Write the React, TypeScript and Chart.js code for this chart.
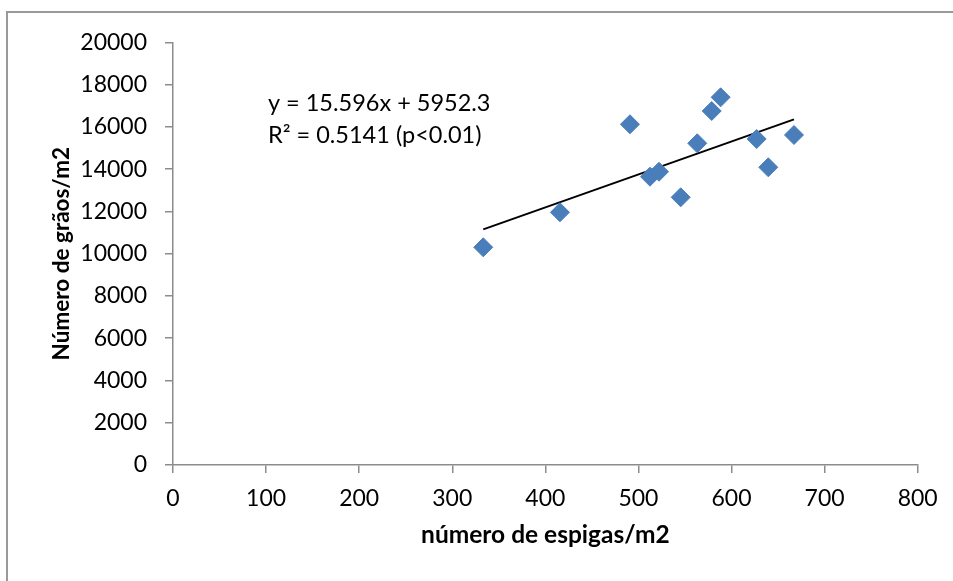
import React, { useEffect, useRef } from "react";
import { Chart, registerables } from "chart.js";

Chart.register(...registerables);

// Data
const X_VALUES = [333.3, 415.7, 490.9, 512.4, 522.1, 545.4, 563.2, 578.7, 588.3, 627.0, 639.5, 667.1];
const Y_VALUES = [10300, 11957, 16120, 13641, 13877, 12666, 15221, 16749, 17398, 15425, 14086, 15614];
const TREND_X = [333.3, 667.1];
const TREND_Y = [11150, 16355];
const X_TITLE = "número de espigas/m2";
const Y_TITLE = "Número de grãos/m2";
const EQUATION_LINES = ["y = 15.596x + 5952.3", "R² = 0.5141 (p<0.01)"];
const ANNOT_X = 102;
const ANNOT_Y = [17130, 15610];

const FONT = "Lato, 'Open Sans', sans-serif";
const AXIS_COLOR = "#8c8c8c";

const annotationPlugin = {
  id: "equationText",
  afterDatasetsDraw(chart: any) {
    const { ctx, scales } = chart;
    ctx.save();
    ctx.fillStyle = "#000";
    ctx.font = `23.5px ${FONT}`;
    ctx.textAlign = "left";
    ctx.textBaseline = "middle";
    EQUATION_LINES.forEach((t, i) => {
      ctx.fillText(t, scales.x.getPixelForValue(ANNOT_X), scales.y.getPixelForValue(ANNOT_Y[i]));
    });
    ctx.restore();
  },
};

export default function App() {
  const ref = useRef<HTMLCanvasElement>(null);
  useEffect(() => {
    if (!ref.current) return;
    const chart = new Chart(ref.current, {
      type: "scatter",
      data: {
        datasets: [
          {
            label: "data",
            data: X_VALUES.map((x, i) => ({ x, y: Y_VALUES[i] })),
            pointStyle: "rectRot",
            pointRadius: 9.5,
            backgroundColor: "#4a7ebb",
            borderColor: "#4a7ebb",
            borderWidth: 1,
          },
          {
            label: "trend",
            type: "line",
            data: TREND_X.map((x, i) => ({ x, y: TREND_Y[i] })),
            borderColor: "#000",
            borderWidth: 2,
            pointRadius: 0,
            fill: false,
          } as any,
        ],
      },
      options: {
        animation: false,
        responsive: false,
        devicePixelRatio: 1,
        layout: { padding: { left: 0, top: 42.3, right: 35.3, bottom: 0 } },
        plugins: { legend: { display: false }, tooltip: { enabled: false } },
        scales: {
          x: {
            type: "linear",
            min: 0,
            max: 800,
            ticks: {
              stepSize: 100,
              padding: 12,
              color: "#000",
              font: { family: FONT, size: 23 },
              callback: (v: any) => String(v),
            },
            grid: { drawOnChartArea: false, drawTicks: true, tickLength: 8, color: AXIS_COLOR, lineWidth: 1.5 },
            border: { color: AXIS_COLOR, width: 1.5 },
            title: {
              display: true,
              text: X_TITLE,
              color: "#000",
              font: { family: FONT, size: 24.5, weight: "bold" },
              padding: { top: 0, bottom: 31 },
            },
            afterFit(scale: any) {
              scale.height = 116;
            },
          },
          y: {
            type: "linear",
            min: 0,
            max: 20000,
            ticks: {
              stepSize: 2000,
              padding: 18,
              color: "#000",
              font: { family: FONT, size: 23 },
              callback: (v: any) => String(v),
            },
            grid: { drawOnChartArea: false, drawTicks: true, tickLength: 8, color: AXIS_COLOR, lineWidth: 1.5 },
            border: { color: AXIS_COLOR, width: 1.5 },
            title: {
              display: true,
              text: Y_TITLE,
              color: "#000",
              font: { family: FONT, size: 22.5, weight: "bold" },
              padding: { top: 48, bottom: 0 },
            },
            afterFit(scale: any) {
              scale.width = 173;
            },
          },
        },
      },
      plugins: [annotationPlugin],
    });
    return () => chart.destroy();
  }, []);

  return (
    <div style={{ position: "absolute", left: 0, top: 0, width: 953, height: 581, background: "#fff" }}>
      <div
        style={{
          position: "absolute",
          left: 6,
          top: 11,
          right: 0,
          bottom: 0,
          borderLeft: "2px solid #999",
          borderTop: "2px solid #999",
        }}
      />
      <canvas ref={ref} width={953} height={581} style={{ position: "absolute", left: 0, top: 0 }} />
    </div>
  );
}
